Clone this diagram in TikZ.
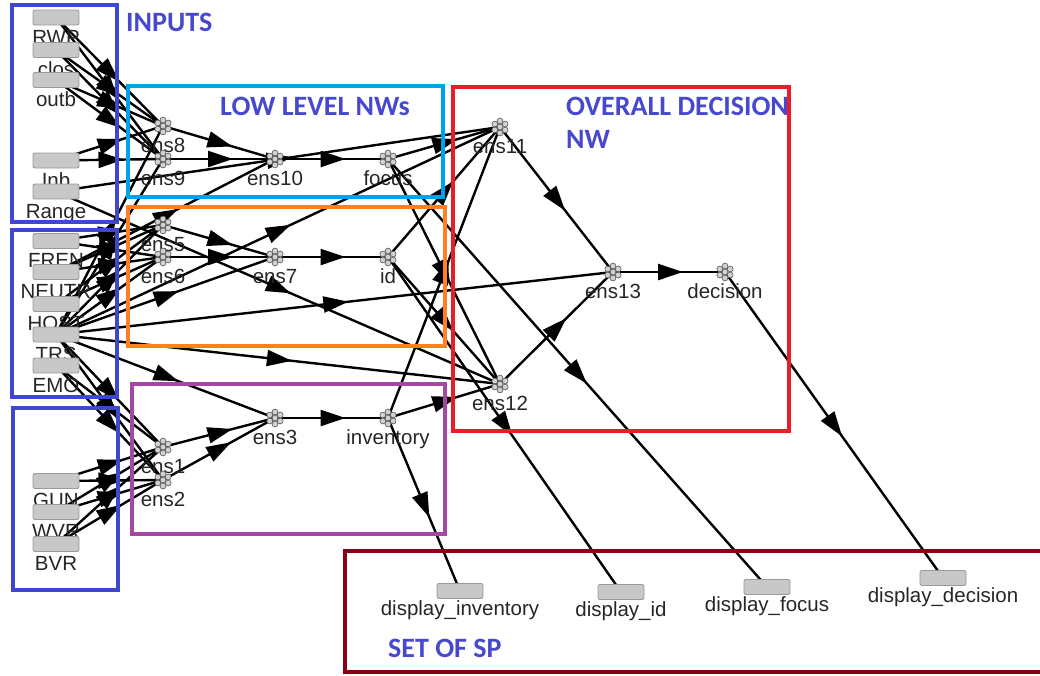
\documentclass[tikz,border=0pt]{standalone}
\usepackage{fontspec}
\setmainfont{Liberation Sans}
\newfontfamily\headfont{Carlito}
\usetikzlibrary{arrows.meta,decorations.markings}

\definecolor{inpblue}{HTML}{3F48CC}
\definecolor{lowcyan}{HTML}{00A2E8}
\definecolor{midorange}{HTML}{FF7F27}
\definecolor{lowpurple}{HTML}{A349A4}
\definecolor{topred}{HTML}{ED1C24}
\definecolor{spred}{HTML}{880015}
\definecolor{headblue}{HTML}{4648CE}
\definecolor{nodegray}{HTML}{C8C8C8}
\definecolor{nodeedge}{HTML}{9A9A9A}

\pgfdeclarelayer{edges}
\pgfsetlayers{edges,main}

\begin{document}
\begin{tikzpicture}[x=1pt,y=-1pt,
  inp/.style={draw=nodeedge, fill=nodegray, rounded corners=2pt,
    minimum width=46pt, minimum height=15pt, inner sep=0pt, line width=0.9pt},
  ensn/.style={circle, minimum size=22pt, inner sep=0pt,
    path picture={
      \foreach \a in {30,90,...,330}
        \draw[draw=gray!80!black, fill=gray!35, line width=0.7pt]
          ([shift={(\a:6pt)}]path picture bounding box.center) circle (2.9pt);
      \draw[draw=gray!80!black, fill=gray!35, line width=0.7pt]
          (path picture bounding box.center) circle (2.9pt);
    }},
  lbl/.style={font=\fontsize{20.5}{24}\selectfont, anchor=base, inner sep=0pt, text=black!85},
  head/.style={font=\headfont\bfseries\fontsize{28}{32}\selectfont, text=headblue,
    anchor=base west, inner sep=0pt},
  conn/.style={line width=2.4pt, postaction={decorate},
    decoration={markings, mark=at position 0.5 with
      {\pgftransformxshift{14pt}\arrow{Triangle[length=25pt,width=16pt]}}}},
  frame/.style={line width=3.8pt}
]
\useasboundingbox (0,0) rectangle (1040,675);

% input nodes, each label partly hidden by the next box
\node[inp] (RWP) at (56,17.5) {};   \node[lbl] (RWPl) at (56,44) {RWP};
\node[inp] (clos) at (56,50) {};    \node[lbl] (closl) at (56,76.5) {clos};
\node[inp] (outb) at (56,80) {};    \node[lbl] (outbl) at (56,106.5) {outb};
\node[inp] (Inb) at (56,160.5) {};  \node[lbl] (Inbl) at (56,187) {Inb};
\node[inp] (Range) at (56,191.5) {};\node[lbl] (Rangel) at (56,218) {Range};
\node[inp] (FREN) at (56,241) {};   \node[lbl] (FRENl) at (56,267.5) {FREN};
\node[inp] (NEUTR) at (56,272) {};  \node[lbl] (NEUTRl) at (56,298.5) {NEUTR};
\node[inp] (HOST) at (56,304) {};   \node[lbl] (HOSTl) at (56,330.5) {HOST};
\node[inp] (TRS) at (56,334.5) {};  \node[lbl] (TRSl) at (56,361) {TRS};
\node[inp] (EMO) at (56,365.5) {};  \node[lbl] (EMOl) at (56,392) {EMO};
\node[inp] (GUN) at (56,481) {};    \node[lbl] (GUNl) at (56,507.5) {GUN};
\node[inp] (WVR) at (56,512) {};    \node[lbl] (WVRl) at (56,538.5) {WVR};
\node[inp] (BVR) at (56,544) {};    \node[lbl] (BVRl) at (56,570.5) {BVR};

% ensembles
\foreach \n/\x/\y in {ens8/163/126, ens9/163/159, ens10/275/159, focus/388/159,
    ens5/163/225, ens6/163/257, ens7/275/257, id/388/257,
    ens1/163/447, ens2/163/480, ens3/275/418, inventory/388/418,
    ens11/500/127, ens12/500/384, ens13/613/272, decision/725/272}
  {\node[ensn] (\n) at (\x,\y) {};
   \node[lbl] (\n l) at (\x,\y+26) {\n};}

% display nodes
\node[inp] (dinv) at (460,591) {}; \node[lbl] (dinvl) at (460,615) {display\_inventory};
\node[inp] (did) at (621,592) {};  \node[lbl] (didl) at (621,616) {display\_id};
\node[inp] (dfoc) at (767,587) {}; \node[lbl] (dfocl) at (767,611) {display\_focus};
\node[inp] (ddec) at (943,578) {}; \node[lbl] (ddecl) at (943,602) {display\_decision};

% connections
\begin{pgfonlayer}{edges}
\foreach \a/\b in {RWP/ens8, RWP/ens9, clos/ens8, clos/ens9, outb/ens8, outb/ens9,
    Inb/ens8, Inb/ens9, TRS/ens8, TRS/ens9, ens8/ens10, ens9/ens10, ens10/focus,
    Range/ens11, Range/ens12, NEUTR/ens10,
    FREN/ens5, FREN/ens6, NEUTR/ens5, NEUTR/ens6, HOST/ens5, HOST/ens6,
    TRS/ens5, TRS/ens6, ens5/ens7, ens6/ens7, ens7/id,
    TRS/ens7, TRS/ens11, TRS/ens12, TRS/ens13, TRS/ens3, TRS/ens1, TRS/ens2,
    EMO/ens1, EMO/ens2,
    GUN/ens1, GUN/ens2, WVR/ens1, WVR/ens2, BVR/ens1, BVR/ens2,
    ens1/ens3, ens2/ens3, ens3/inventory,
    focus/ens11, focus/ens12, id/ens11, id/ens12, inventory/ens11, inventory/ens12,
    ens11/ens13, ens12/ens13, ens13/decision,
    inventory/dinv, id/did, focus/dfoc, decision/ddec}
  \draw[conn] (\a.center) -- (\b.center);
\end{pgfonlayer}

% grouping frames
\draw[frame, inpblue] (12,5) rectangle (117,222);
\draw[frame, inpblue] (12,230) rectangle (117,397);
\draw[frame, inpblue] (13,408) rectangle (118,590);
\draw[frame, lowcyan] (128,86) rectangle (443,197);
\draw[frame, midorange] (128,207) rectangle (445,346);
\draw[frame, lowpurple] (132,384) rectangle (445,534);
\draw[frame, topred] (453,87) rectangle (789,431);
\draw[frame, spred] (345,551) rectangle (1060,672);

% frame titles
\node[head] (tinputs) at (126,31) {INPUTS};
\node[head] (tlow) at (220,115) {LOW LEVEL NWs};
\node[head] (tover) at (566,115) {OVERALL DECISION};
\node[head] (tnw) at (566,148) {NW};
\node[head] (tsp) at (388,657) {SET OF SP};
\end{tikzpicture}
\end{document}
